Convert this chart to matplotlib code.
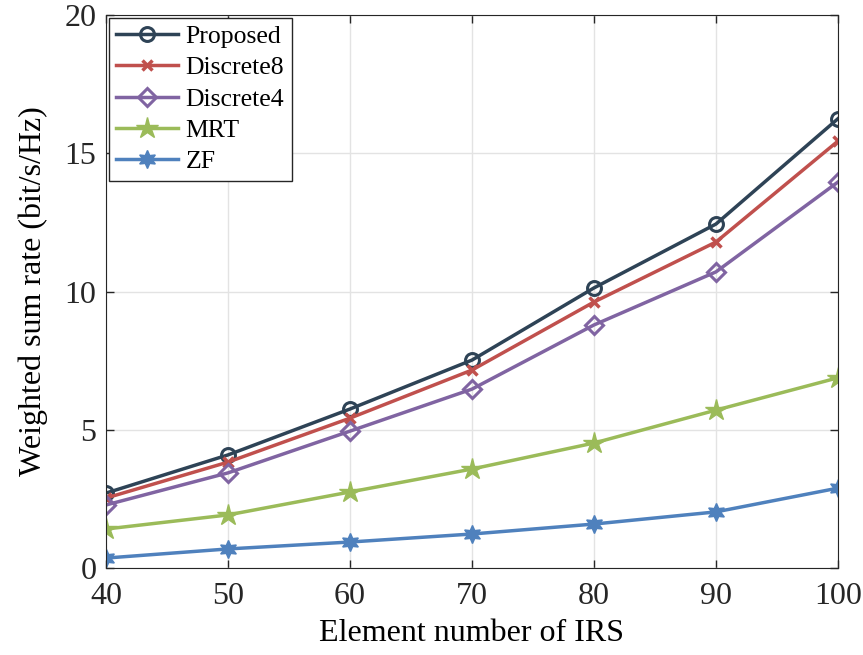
import numpy as np
import matplotlib
matplotlib.use('Agg')
from matplotlib import pyplot

elements = [40, 50, 60, 70, 80, 90, 100]
proposed = [2.71, 4.09, 5.75, 7.52, 10.13, 12.44, 16.25]
discrete8 = [2.53, 3.83, 5.42, 7.16, 9.62, 11.79, 15.44]
discrete4 = [2.28, 3.44, 4.95, 6.47, 8.79, 10.71, 13.96]
mrt = [1.41, 1.92, 2.75, 3.58, 4.52, 5.71, 6.88]
zf = [0.36, 0.69, 0.94, 1.23, 1.59, 2.03, 2.89]

pyplot.rcParams['font.family'] = ['Liberation Serif', 'DejaVu Serif']

fig = pyplot.figure(figsize=(8.63, 6.55), dpi=100)
ax = fig.add_axes([0.1228, 0.1328, 0.8482, 0.8443])

ax.plot(elements, proposed, '-o', color='#2e4356', lw=2.5, ms=10, mfc='none', mew=2.2, label='Proposed')
ax.plot(elements, discrete8, '-x', color='#c0504d', lw=2.5, ms=7, mew=2.5, label='Discrete8')
ax.plot(elements, discrete4, '-D', color='#8064a2', lw=2.5, ms=9, mfc='none', mew=2.2, label='Discrete4')
ax.plot(elements, mrt, '-*', color='#9bbb59', lw=2.5, ms=16, label='MRT')
ax.plot(elements, zf, '-', marker=(6, 1, 0), color='#4f81bd', lw=2.5, ms=13, label='ZF')

ax.set_xlim(40, 100)
ax.set_ylim(0, 20)
ax.set_xticks(elements)
ax.set_yticks([0, 5, 10, 15, 20])
ax.grid(True, color='#e3e3e3', lw=1)
ax.tick_params(direction='in', top=True, right=True, labelsize=23, length=6, width=1, colors='#262626')
ax.tick_params(axis='x', pad=10)
ax.tick_params(axis='y', pad=7)
for s in ax.spines.values():
    s.set_color('#262626')
ax.set_xlabel('Element number of IRS', fontsize=23, labelpad=6)
ax.set_ylabel('Weighted sum rate (bit/s/Hz)', fontsize=23, labelpad=12)

leg = ax.legend(loc='upper left', fontsize=18.5, fancybox=False, framealpha=1, edgecolor='#262626',
                borderaxespad=0.1, handlelength=2.4, labelspacing=0.32, handletextpad=0.3, borderpad=0.3)
leg.get_frame().set_linewidth(1)

fig.savefig('out.png', dpi=100)
